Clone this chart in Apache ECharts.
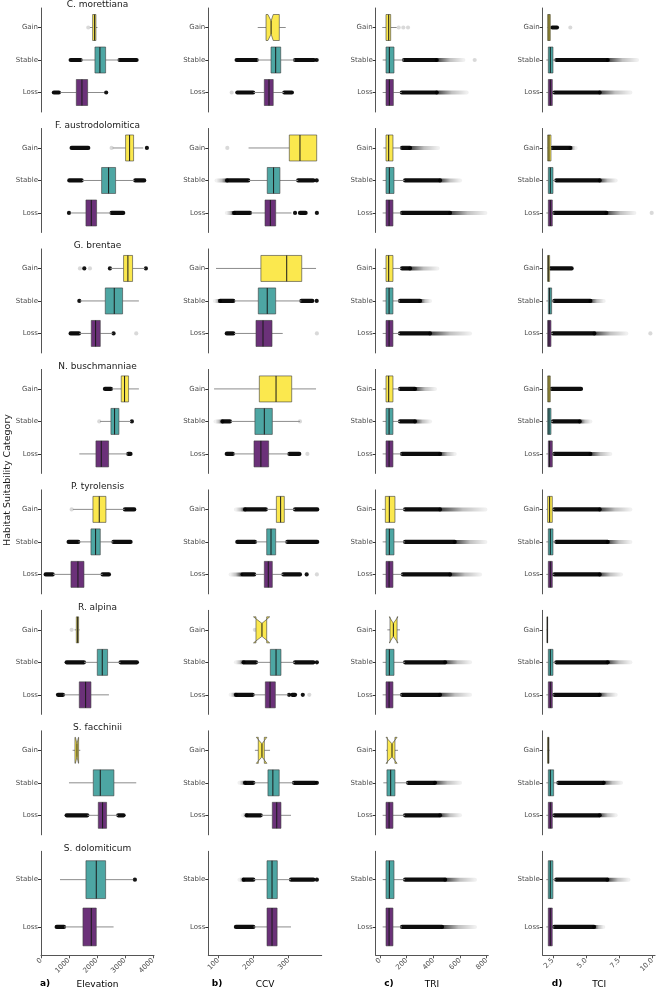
<!DOCTYPE html>
<html><head><meta charset="utf-8">
<script src="https://cdn.jsdelivr.net/npm/echarts@6/dist/echarts.min.js"></script>
<style>html,body{margin:0;padding:0;background:#fff}#chart{width:657px;height:991px}</style>
</head><body><div id="chart"></div>
<script>
// ---------- DATA ----------
const species = ['C. morettiana','F. austrodolomitica','G. brentae','N. buschmanniae','P. tyrolensis','R. alpina','S. facchinii','S. dolomiticum'];
const groups = [['Gain','Stable','Loss'],['Gain','Stable','Loss'],['Gain','Stable','Loss'],['Gain','Stable','Loss'],['Gain','Stable','Loss'],['Gain','Stable','Loss'],['Gain','Stable','Loss'],['Stable','Loss']];

const elevationTicks = [0,1000,2000,3000,4000];
const ccvTicks = [100,200,300];
const triTicks = [0,200,400,600,800];
const tciTicks = [2.5,5,7.5,10];

// boxes: [lower whisker, q1, median, q3, upper whisker] per species, per group
const elevation = [
 [[1750,1846,1917,1964,2020],[1430,1929,2107,2310,2798],[690,1262,1464,1667,2250]],
 [[2560,3024,3167,3310,3655],[1470,2167,2417,2667,3340],[1060,1607,1798,1988,2500]],
 [[2480,2952,3107,3274,3720],[1400,2298,2619,2917,3500],[1370,1798,1952,2119,2560]],
 [[2530,2869,2988,3131,3500],[2110,2500,2631,2786,3220],[1369,1964,2155,2417,3100]],
 [[1140,1857,2083,2321,2990],[1340,1786,1952,2119,2583],[430,1071,1321,1536,2202]],
 [[1200,1262,1310,1345,1380],[1540,2012,2190,2381,2845],[800,1369,1595,1786,2429]],
 [[1131,1214,1286,1345,1405],[1000,1869,2119,2607,3405],[1660,2048,2202,2345,2750]],
 [[679,1607,1976,2310,3298],[830,1500,1798,1976,2595]]
];
// outliers: [from, to, kind]  d = dense cloud, f = fading cloud, p = point, g = faint point
const elevationOutliers = [
 [[[1690,1690,'g']],[[1060,1417,'d'],[2810,3417,'d']],[[460,640,'d'],[2330,2330,'p']]],
 [[[1095,1690,'d'],[2524,2524,'g'],[3786,3786,'p']],[[1012,1452,'d'],[3370,3690,'d']],[[1000,1000,'p'],[2524,2940,'d']]],
 [[[1393,1393,'g'],[1548,1548,'p'],[1750,1750,'g'],[2464,2464,'p'],[3750,3750,'p']],[[1370,1370,'p']],[[1060,1357,'d'],[2595,2595,'p'],[3405,3405,'g']]],
 [[[2286,2500,'d']],[[2083,2083,'g'],[3250,3250,'p']],[[3120,3200,'d']]],
 [[[1095,1095,'g'],[3000,3333,'d']],[[988,1333,'d'],[2590,3202,'d']],[[167,417,'d'],[2202,2429,'d']]],
 [[[1095,1095,'g']],[[917,1536,'d'],[2845,3429,'d']],[[607,786,'d']]],
 [[],[],[[917,1655,'d'],[2762,2952,'d']]],
 [[[3357,3357,'p']],[[560,821,'d']]]
];
// notches: [species, group, lower notch, upper notch]
const elevationNotch = [[6,0,1230,1340]];

const ccv = [
 [[212,235.6,250,273.3,291.5],[210,249.7,263,277.3,318],[200,230.7,244,256,287]],
 [[186,301.7,332,379.5,379.5],[186,239,257,275,327],[192,232.7,247.8,263,308]],
 [[93.5,221,294.3,337,377.6],[145,213.6,239,263,336],[145,207,227,252.6,283]],
 [[88,216.5,264,308.5,377.6],[135,204,230.7,253.4,332],[143,201.4,221,243,300]],
 [[237,265,277,287.5,318],[206,237.5,249.7,263,296],[204,230.7,242,253.4,284.7]],
 [[207,207,224,237.5,237.5],[208,247.7,264,278,318],[199,233.6,247,262,299]],
 [[204,213.6,224,230.7,247],[200,241,255,273,315],[222,253.4,266,278,306.5]],
 [[200,238.4,252.6,267.6,306.5],[200,238.4,252.6,267,306.5]]
];
const ccvOutliers = [
 [[],[[152,209,'d'],[318,372,'d'],[379.5,379.5,'p']],[[138,138,'g'],[154,199,'d'],[287.5,309,'d']]],
 [[[125.6,125.6,'g']],[[125,95,'f'],[125,185,'d'],[327,370,'d'],[379.5,379.5,'p']],[[145,124,'f'],[145,190,'d'],[318,318,'p'],[332,348,'d'],[380,380,'p']]],
 [[],[[105,90,'f'],[105,142.6,'d'],[336,367,'d'],[379.5,379.5,'p']],[[124,142.6,'d'],[380,380,'g']]],
 [[],[[112,92,'f'],[112,133,'d'],[332,332,'g']],[[124,141,'d'],[302,330,'d'],[353,353,'g']]],
 [[[176,235,'d'],[176,150,'f'],[318,381,'d']],[[154,204,'d'],[296,381,'d']],[[169,202,'d'],[165,135,'f'],[285,332,'d'],[351,351,'p'],[380,380,'g']]],
 [[[204,204,'g']],[[172,207,'d'],[172,150,'f'],[318,370,'d'],[380,380,'p']],[[150,197.7,'d'],[150,135,'f'],[301,306,'p'],[310,318,'d'],[340,340,'p'],[358.5,358.5,'g']]],
 [[],[[176,199.5,'d'],[176,160,'f'],[315,375,'d'],[380,380,'p']],[[180.7,220.5,'d'],[180,170,'f']]],
 [[[172,199.5,'d'],[172,160,'f'],[306.5,370,'d'],[380,380,'p']],[[150,199.5,'d']]]
];
const ccvNotch = [[0,0,241,256],[5,0,200,246],[6,0,208,238]];

const tri = [
 [[17,45,65,80,125],[20,45,70,105,180],[20,45,70,100,163]],
 [[25,45,65,97,160],[20,45,70,105,185],[20,45,68,97,163]],
 [[25,45,65,97,160],[20,45,68,97,150],[20,45,68,97,150]],
 [[25,45,65,97,150],[20,45,68,97,150],[20,45,68,97,163]],
 [[15,40,70,112,188],[20,45,70,105,188],[20,45,68,97,170]],
 [[55,75,100,128,150],[20,45,70,105,188],[20,45,68,97,165]],
 [[45,55,90,112,135],[25,52,80,112,210],[20,45,68,97,188]],
 [[20,45,70,105,188],[20,45,68,97,165]]
];
const triOutliers = [
 [[[140,140,'g'],[175,175,'g'],[210,210,'g']],[[180,425,'d'],[425,625,'f'],[710,710,'g']],[[163,425,'d'],[425,650,'f']]],
 [[[165,225,'d'],[225,435,'f']],[[188,450,'d'],[450,600,'f']],[[165,525,'d'],[525,790,'f']]],
 [[[165,225,'d'],[225,430,'f']],[[150,300,'d'],[300,375,'f']],[[150,375,'d'],[375,675,'f']]],
 [[[150,262,'d'],[262,412,'f']],[[150,262,'d'],[262,375,'f']],[[165,450,'d'],[450,560,'f']]],
 [[[188,450,'d'],[450,790,'f']],[[188,560,'d'],[560,790,'f']],[[172,525,'d'],[525,750,'f']]],
 [[],[[188,488,'d'],[488,675,'f']],[[165,450,'d'],[450,675,'f']]],
 [[],[[210,412,'d'],[412,600,'f']],[[188,450,'d'],[450,600,'f']]],
 [[[188,488,'d'],[488,712,'f']],[[165,465,'d'],[465,712,'f']]]
];
const triNotch = [[5,0,70,135],[6,0,45,128]];

const tci = [
 [[2.05,2.1,2.2,2.3,2.35],[2.0,2.15,2.3,2.5,2.7],[2.0,2.15,2.3,2.45,2.6]],
 [[2.05,2.1,2.2,2.35,2.45],[2.0,2.15,2.3,2.5,2.7],[2.0,2.15,2.3,2.45,2.6]],
 [[2.05,2.1,2.15,2.25,2.3],[2.0,2.15,2.25,2.4,2.6],[2.0,2.1,2.2,2.35,2.5]],
 [[2.05,2.1,2.2,2.3,2.4],[2.0,2.1,2.2,2.35,2.5],[2.0,2.15,2.25,2.45,2.6]],
 [[2.0,2.1,2.25,2.45,2.6],[2.0,2.15,2.3,2.5,2.7],[2.0,2.15,2.3,2.45,2.6]],
 [[2.02,2.05,2.08,2.1,2.12],[2.0,2.15,2.3,2.5,2.7],[2.0,2.15,2.3,2.45,2.6]],
 [[2.05,2.1,2.15,2.2,2.25],[2.0,2.15,2.3,2.55,2.9],[2.0,2.15,2.3,2.45,2.6]],
 [[2.0,2.15,2.3,2.5,2.7],[2.0,2.15,2.3,2.45,2.6]]
];
const tciOutliers = [
 [[[2.45,2.8,'d'],[3.8,3.8,'g']],[[2.75,6.6,'d'],[6.6,8.8,'f']],[[2.6,6.0,'d'],[6.0,8.3,'f']]],
 [[[2.45,3.8,'d'],[3.8,4.2,'f']],[[2.75,6.0,'d'],[6.0,7.2,'f']],[[2.6,6.5,'d'],[6.5,8.6,'f'],[9.9,9.9,'g']]],
 [[[2.3,3.9,'d']],[[2.6,5.3,'d'],[5.3,6.3,'f']],[[2.5,5.6,'d'],[5.6,8.0,'f'],[9.8,9.8,'g']]],
 [[[2.4,4.6,'d']],[[2.5,4.5,'d'],[4.5,5.3,'f']],[[2.6,5.3,'d'],[5.3,6.8,'f']]],
 [[[2.6,6.0,'d'],[6.0,8.3,'f']],[[2.75,6.6,'d'],[6.6,8.3,'f']],[[2.6,6.0,'d'],[6.0,7.6,'f']]],
 [[],[[2.75,6.6,'d'],[6.6,8.3,'f']],[[2.6,6.0,'d'],[6.0,7.2,'f']]],
 [[],[[2.9,6.3,'d'],[6.3,7.6,'f']],[[2.6,6.0,'d'],[6.0,7.2,'f']]],
 [[[2.75,6.6,'d'],[6.6,8.2,'f']],[[2.6,5.6,'d'],[5.6,6.3,'f']]]
];
const tciNotch = [];

// ---------- STYLE / LAYOUT ----------
const groupColor = {Gain:'#FBE84E', Stable:'#4DA6A3', Loss:'#6B3179'};
const FONT = 'DejaVu Sans';
const panels = [
 {boxes:elevation, out:elevationOutliers, notch:elevationNotch, ticks:elevationTicks, range:[0,4040], left:41, width:113, fmt:v=>String(v), letter:'a)', letterX:45, name:'Elevation'},
 {boxes:ccv, out:ccvOutliers, notch:ccvNotch, ticks:ccvTicks, range:[71.6,393.7], left:208.3, width:113.4, fmt:v=>String(v), letter:'b)', letterX:217, name:'CCV'},
 {boxes:tri, out:triOutliers, notch:triNotch, ticks:triTicks, range:[-32.3,812], left:375.7, width:112.6, fmt:v=>String(v), letter:'c)', letterX:389, name:'TRI'},
 {boxes:tci, out:tciOutliers, notch:tciNotch, ticks:tciTicks, range:[1.73,10.2], left:542.7, width:113, fmt:v=>v.toFixed(1), letter:'d)', letterX:557, name:'TCI'}
];
const rowTop = r => 8 + r * 120.47;
const rowH = 104;
const kindCode = {d:0, f:1, p:2, g:3};

function drawBox(api, cats, notchMap) {
  const i = api.value(0);
  const lo = api.value(1), q1 = api.value(2), md = api.value(3), q3 = api.value(4), hi = api.value(5);
  const unit = Math.abs(api.coord([md, 1])[1] - api.coord([md, 0])[1]);
  const hw = unit * 0.4;
  const X = v => api.coord([v, i])[0];
  const yc = api.coord([md, i])[1];
  const top = yc - hw, bot = yc + hw;
  const n = notchMap[i];
  let pts, ind = 0;
  if (n) {
    ind = hw * 0.5;
    pts = [[X(q1),top],[X(n[0]),top],[X(md),top+ind],[X(n[1]),top],[X(q3),top],
           [X(q3),bot],[X(n[1]),bot],[X(md),bot-ind],[X(n[0]),bot],[X(q1),bot]];
  } else {
    pts = [[X(q1),top],[X(q3),top],[X(q3),bot],[X(q1),bot]];
  }
  return {type:'group', children:[
    {type:'line', shape:{x1:X(lo),y1:yc,x2:X(q1),y2:yc}, style:{stroke:'#8c8c8c', lineWidth:1}},
    {type:'line', shape:{x1:X(q3),y1:yc,x2:X(hi),y2:yc}, style:{stroke:'#8c8c8c', lineWidth:1}},
    {type:'polygon', shape:{points:pts}, style:{fill:groupColor[cats[i]], stroke:'#3c3c3c', lineWidth:0.6}},
    {type:'line', shape:{x1:X(md),y1:top+ind,x2:X(md),y2:bot-ind}, style:{stroke:'#1a1a1a', lineWidth:1}}
  ]};
}
function drawOut(api) {
  const i = api.value(0), a = api.value(1), b = api.value(2), k = api.value(3);
  const pa = api.coord([a, i]), pb = api.coord([b, i]);
  if (k === 2 || k === 3 || (k === 0 && Math.abs(pa[0]-pb[0]) < 0.5)) {
    return {type:'circle', shape:{cx:pa[0], cy:pa[1], r:2.1}, style:{fill: k === 3 ? 'rgba(0,0,0,0.15)' : 'rgba(0,0,0,0.92)'}};
  }
  if (k === 0) {
    return {type:'line', shape:{x1:pa[0],y1:pa[1],x2:pb[0],y2:pb[1]}, style:{stroke:'rgba(0,0,0,0.95)', lineWidth:4.2, lineCap:'round'}};
  }
  return {type:'line', shape:{x1:pa[0],y1:pa[1],x2:pb[0],y2:pb[1]},
    style:{lineWidth:4, lineCap:'round', stroke:{type:'linear', global:true, x:pa[0], y:0, x2:pb[0], y2:0,
      colorStops:[{offset:0,color:'rgba(0,0,0,0.75)'},{offset:0.5,color:'rgba(0,0,0,0.25)'},{offset:1,color:'rgba(0,0,0,0.06)'}]}}};
}

const grids = [], xAxes = [], yAxes = [], series = [], graphics = [];
panels.forEach((P, c) => {
  species.forEach((sp, r) => {
    const gi = grids.length;
    const cats = groups[r];
    const last = r === species.length - 1;
    const idxs = cats.map((_, i) => i);
    grids.push({left:P.left, top:rowTop(r), width:P.width, height:rowH});
    xAxes.push({gridIndex:gi, type:'value', min:P.range[0], max:P.range[1], splitLine:{show:false},
      axisLine:{show:last, onZero:false, lineStyle:{color:'#555', width:1}},
      axisTick:{show:last, customValues:P.ticks, length:3, lineStyle:{color:'#555'}},
      axisLabel:{show:last, customValues:P.ticks, rotate:45, fontSize:7, color:'#4d4d4d', margin:4, fontFamily:FONT, formatter:P.fmt}});
    yAxes.push({gridIndex:gi, type:'value', inverse:true, min:-0.6, max:cats.length - 0.4, splitLine:{show:false},
      axisLine:{show:true, onZero:false, lineStyle:{color:'#555', width:1}},
      axisTick:{show:true, customValues:idxs, length:3, lineStyle:{color:'#333'}},
      axisLabel:{show:true, customValues:idxs, formatter:v => cats[Math.round(v)] || '', fontSize:7, color:'#4d4d4d', margin:3, fontFamily:FONT}});
    const notchMap = {};
    P.notch.filter(n => n[0] === r).forEach(n => { notchMap[n[1]] = [n[2], n[3]]; });
    const outData = [];
    P.out[r].forEach((list, i) => list.forEach(o => outData.push([i, o[0], o[1], kindCode[o[2]]])));
    series.push({type:'custom', xAxisIndex:gi, yAxisIndex:gi, silent:true, clip:false,
      data:outData, encode:{x:[1,2], y:0}, renderItem:(p, api) => drawOut(api)});
    series.push({type:'custom', xAxisIndex:gi, yAxisIndex:gi, silent:true, clip:false,
      data:P.boxes[r].map((b, i) => [i].concat(b)), encode:{x:[1,2,3,4,5], y:0},
      renderItem:(p, api) => drawBox(api, cats, notchMap)});
    if (c === 0) {
      graphics.push({type:'text', style:{text:sp, font:'9px "DejaVu Sans"', fill:'#1a1a1a', textAlign:'center', textVerticalAlign:'middle', x:P.left + P.width/2, y:rowTop(r) - 3}});
    }
  });
  graphics.push({type:'text', style:{text:P.letter, x:P.letterX, y:984, font:'bold 9px "DejaVu Sans"', fill:'#000', textAlign:'center', textVerticalAlign:'middle'}});
  graphics.push({type:'text', style:{text:P.name, x:P.left + P.width/2, y:985, font:'9px "DejaVu Sans"', fill:'#000', textAlign:'center', textVerticalAlign:'middle'}});
});
graphics.push({type:'text', x:8, y:480, rotation:Math.PI/2, style:{text:'Habitat Suitability Category', x:0, y:0, font:'9.5px "DejaVu Sans"', fill:'#1a1a1a', textAlign:'center', textVerticalAlign:'middle'}});

const chart = echarts.init(document.getElementById('chart'), null, {renderer:'canvas'});
chart.setOption({animation:false, backgroundColor:'#fff', grid:grids, xAxis:xAxes, yAxis:yAxes, series:series, graphic:{elements:graphics}});
</script>
</body></html>
